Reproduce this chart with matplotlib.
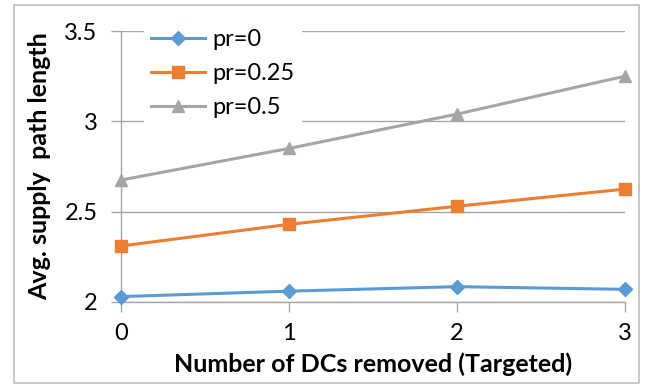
import matplotlib
matplotlib.use("Agg")
import matplotlib.pyplot as plt
from matplotlib.patches import Rectangle

dcs_removed = [0, 1, 2, 3]
pr_0 = [2.03, 2.06, 2.085, 2.07]
pr_025 = [2.31, 2.43, 2.53, 2.625]
pr_05 = [2.675, 2.85, 3.04, 3.25]
y_ticks = [2, 2.5, 3, 3.5]
y_tick_labels = ['2', '2.5', '3', '3.5']

plt.rcParams['font.family'] = ['Lato', 'DejaVu Sans']

fig = plt.figure(figsize=(6.47, 3.87), dpi=100)
ax = fig.add_axes([121 / 647, 1 - 302 / 387, (625 - 121) / 647, (302 - 31) / 387])

# outer chart frame like Excel
fig.patches.append(Rectangle((14 / 647, 4 / 387), 625 / 647, 378 / 387,
                             transform=fig.transFigure, fill=False,
                             edgecolor='#bfbfbf', linewidth=1.2))

ax.plot(dcs_removed, pr_0, color='#5b9bd5', marker='D', markersize=7,
        linewidth=2.2, label='pr=0', clip_on=False, zorder=3)
ax.plot(dcs_removed, pr_025, color='#ed7d31', marker='s', markersize=8,
        linewidth=2.2, label='pr=0.25', clip_on=False, zorder=3)
ax.plot(dcs_removed, pr_05, color='#a5a5a5', marker='^', markersize=8,
        linewidth=2.2, label='pr=0.5', clip_on=False, zorder=3)

ax.set_xlim(0, 3)
ax.set_ylim(2, 3.5)
ax.set_xticks(dcs_removed)
ax.set_yticks(y_ticks)
ax.set_yticklabels(y_tick_labels)

ax.grid(axis='y', color='#a6a6a6', linewidth=1)
ax.set_axisbelow(True)
for side in ['top', 'right']:
    ax.spines[side].set_visible(False)
for side in ['left', 'bottom']:
    ax.spines[side].set_color('#a6a6a6')
    ax.spines[side].set_linewidth(1)
    ax.spines[side].set_zorder(1)
ax.tick_params(axis='both', colors='#a6a6a6', labelcolor='black',
               labelsize=17, length=7, width=1, direction='out')
ax.tick_params(axis='y', pad=10)
ax.tick_params(axis='x', pad=8)

ax.set_xlabel('Number of DCs removed (Targeted)', fontsize=18, fontweight='bold', labelpad=6)
ax.set_ylabel('Avg. supply  path length', fontsize=18, fontweight='bold', labelpad=9)

leg = ax.legend(loc='upper left', bbox_to_anchor=(132 / 647, 1 - 10 / 387),
                bbox_transform=fig.transFigure, frameon=True, fontsize=17,
                handlelength=2.3, labelspacing=0.55, borderpad=0.3,
                handletextpad=0.3, fancybox=False)
leg.get_frame().set_edgecolor('white')
leg.get_frame().set_facecolor('white')
leg.get_frame().set_alpha(1)

fig.savefig('out.png', dpi=100)
